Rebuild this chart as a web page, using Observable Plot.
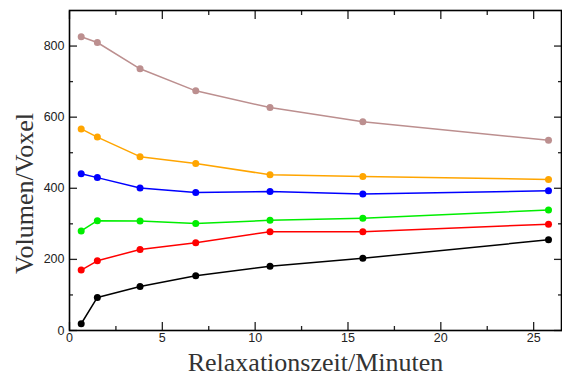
<!DOCTYPE html>
<html>
<head>
<meta charset="utf-8">
<script src="https://cdn.jsdelivr.net/npm/d3@7"></script>
<script src="https://cdn.jsdelivr.net/npm/@observablehq/plot@0.6"></script>
<style>
  html, body { margin: 0; padding: 0; background: #fff; }
</style>
</head>
<body>
<div id="chart"></div>
<script>
// Relaxation times (minutes)
const times = [0.63, 1.5, 3.8, 6.8, 10.8, 15.8, 25.8];

// Series values (Volumen/Voxel)
const brownValues  = [826, 810, 736, 674, 627, 587, 535];
const orangeValues = [567, 544, 489, 470, 438, 433, 425];
const blueValues   = [441, 430, 401, 388, 391, 384, 393];
const greenValues  = [280, 309, 308, 301, 310, 316, 339];
const redValues    = [170, 196, 228, 247, 278, 278, 299];
const blackValues  = [19, 93, 124, 154, 181, 203, 255];

const seriesNames  = ["brown", "orange", "blue", "green", "red", "black"];
const seriesColors = ["#bc8f8f", "#ffa500", "#0000ff", "#00ee00", "#ff0000", "#000000"];
const seriesValues = [brownValues, orangeValues, blueValues, greenValues, redValues, blackValues];

// Ticks
const xMajor = [0, 5, 10, 15, 20, 25];
const xMinor = [2.5, 7.5, 12.5, 17.5, 22.5];
const yMajor = [0, 200, 400, 600, 800];
const yMinor = [100, 300, 500, 700];

const xTitle = "Relaxationszeit/Minuten";
const yTitle = "Volumen/Voxel";

const table = seriesNames.flatMap((name, i) =>
  times.map((t, j) => ({series: name, color: seriesColors[i], x: t, y: seriesValues[i][j]}))
);

const noText = () => "";
const serif = "'Liberation Serif', 'Times New Roman', serif";

const chart = Plot.plot({
  width: 562,
  height: 376,
  marginLeft: 69,
  marginRight: 1,
  marginTop: 10,
  marginBottom: 46,
  style: {fontFamily: "'Liberation Sans', Arial, sans-serif", fontSize: "12.5px", color: "#222", background: "#fff"},
  x: {domain: [0, 26.5]},
  y: {domain: [0, 900]},
  marks: [
    // inward ticks
    Plot.axisX(xMajor, {anchor: "bottom", tickSize: -8, tickFormat: noText, label: null, strokeWidth: 1.3}),
    Plot.axisX(xMinor, {anchor: "bottom", tickSize: -4, tickFormat: noText, label: null, strokeWidth: 1.3}),
    Plot.axisX(xMajor, {anchor: "top", tickSize: -8, tickFormat: noText, label: null, strokeWidth: 1.3}),
    Plot.axisX(xMinor, {anchor: "top", tickSize: -4, tickFormat: noText, label: null, strokeWidth: 1.3}),
    Plot.axisY(yMajor, {anchor: "left", tickSize: -8, tickFormat: noText, label: null, strokeWidth: 1.3}),
    Plot.axisY(yMinor, {anchor: "left", tickSize: -4, tickFormat: noText, label: null, strokeWidth: 1.3}),
    Plot.axisY(yMajor, {anchor: "right", tickSize: -8, tickFormat: noText, label: null, strokeWidth: 1.3}),
    Plot.axisY(yMinor, {anchor: "right", tickSize: -4, tickFormat: noText, label: null, strokeWidth: 1.3}),
    // tick labels
    Plot.axisX(xMajor, {anchor: "bottom", tickSize: 0, tickPadding: 3, label: null}),
    Plot.axisY(yMajor, {anchor: "left", tickSize: 0, tickPadding: 5, label: null}),
    Plot.frame({stroke: "#000", strokeWidth: 1.6}),
    // data
    Plot.line(table, {x: "x", y: "y", z: "series", stroke: "color", strokeWidth: 1.5}),
    Plot.dot(table, {x: "x", y: "y", fill: "color", r: 3.5}),
    // titles
    Plot.text([xTitle], {frameAnchor: "bottom", textAnchor: "middle", lineAnchor: "bottom", dy: 40, fontSize: 26, fontFamily: serif, fill: "#333"}),
    Plot.text([yTitle], {frameAnchor: "left", textAnchor: "middle", rotate: -90, dx: -45, dy: 23, fontSize: 26, fontFamily: serif, fill: "#333"})
  ]
});

document.getElementById("chart").appendChild(chart);
</script>
</body>
</html>
